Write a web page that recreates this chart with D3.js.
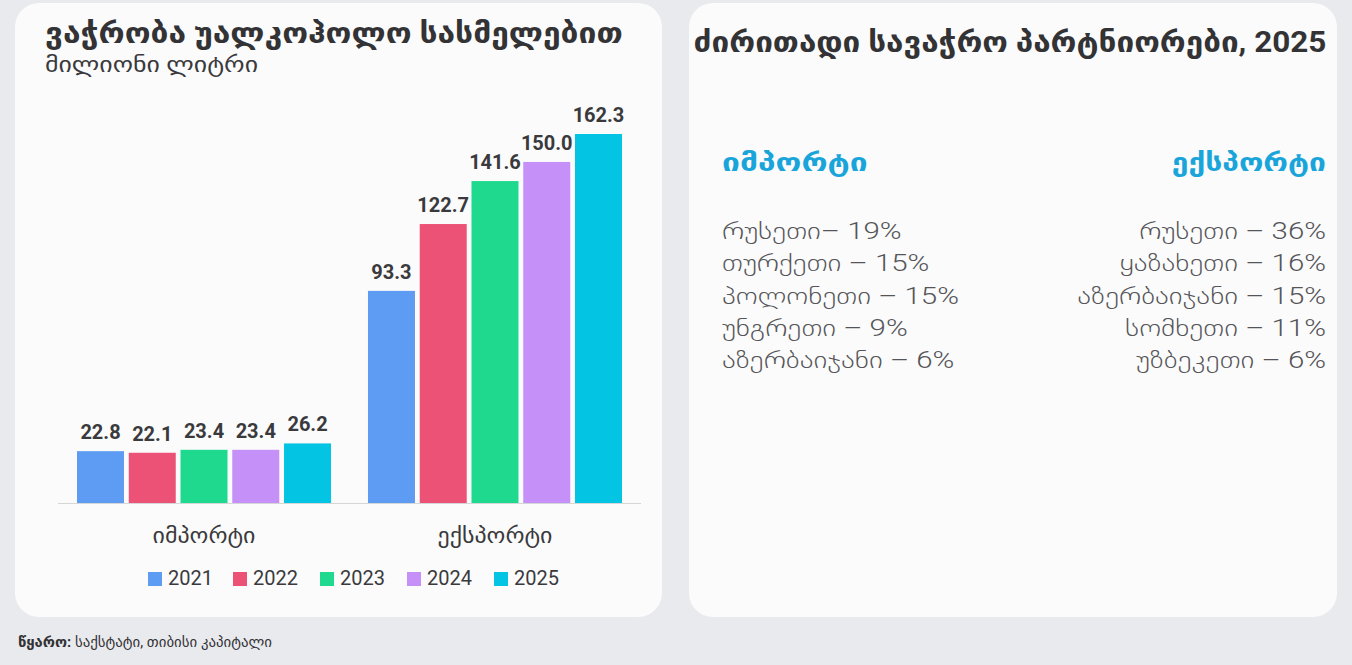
<!DOCTYPE html>
<html>
<head>
<meta charset="utf-8">
<script src="https://cdn.jsdelivr.net/npm/d3@7"></script>
<style>
  html, body { margin: 0; padding: 0; background: #e9eaed; }
  svg { display: block; }
</style>
</head>
<body>
<svg id="chart" width="1352" height="665"></svg>
<script>
// ---- data ----
const categories = ["იმპორტი", "ექსპორტი"];
const years = ["2021", "2022", "2023", "2024", "2025"];
const importValues = [22.8, 22.1, 23.4, 23.4, 26.2];
const exportValues = [93.3, 122.7, 141.6, 150.0, 162.3];
const yearColors = ["#5e9cf3", "#ec5276", "#1fd98e", "#c590f7", "#03c4e2"];

const chartTitle = "ვაჭრობა უალკოჰოლო სასმელებით";
const chartSubtitle = "მილიონი ლიტრი";
const partnersTitle = "ძირითადი სავაჭრო პარტნიორები, 2025";
const importPartners = ["რუსეთი– 19%", "თურქეთი – 15%", "პოლონეთი – 15%", "უნგრეთი – 9%", "აზერბაიჯანი – 6%"];
const exportPartners = ["რუსეთი – 36%", "ყაზახეთი – 16%", "აზერბაიჯანი – 15%", "სომხეთი – 11%", "უზბეკეთი – 6%"];
const sourceLabel = "წყარო:";
const sourceText = " საქსტატი, თიბისი კაპიტალი";

const FONT = "Roboto, 'DejaVu Sans', sans-serif";
const svg = d3.select("#chart");

// widen Georgian text to match the reference typeface's wider glyphs
function widen(sel, factor) {
  sel.each(function () {
    const w = this.getComputedTextLength();
    d3.select(this).attr("textLength", w * factor).attr("lengthAdjust", "spacingAndGlyphs");
  });
  return sel;
}

// ---- cards ----
svg.append("rect").attr("x", 15).attr("y", 3).attr("width", 647).attr("height", 614)
  .attr("rx", 24).attr("fill", "#fbfbfc");
svg.append("rect").attr("x", 689).attr("y", 3).attr("width", 648).attr("height", 614)
  .attr("rx", 24).attr("fill", "#fbfbfc");

// ---- left title ----
widen(svg.append("text").attr("x", 45).attr("y", 43)
  .attr("font-family", FONT).attr("font-weight", 700).attr("font-size", 28)
  .attr("fill", "#333336").text(chartTitle), 1.135);
widen(svg.append("text").attr("x", 45).attr("y", 72)
  .attr("font-family", FONT).attr("font-weight", 400).attr("font-size", 21)
  .attr("fill", "#3a3a3c").text(chartSubtitle), 1.23);

// ---- bar chart ----
const data = categories.map((c, i) => ({
  cat: c,
  values: (i === 0 ? importValues : exportValues).map((v, j) => ({ year: years[j], value: v, color: yearColors[j] }))
}));

const x0 = d3.scaleBand().domain(categories).range([77, 622]).paddingInner(0.127).paddingOuter(0);
const x1 = d3.scaleBand().domain(years).range([0, x0.bandwidth()]).paddingInner(0.092);
const y = d3.scaleLinear().domain([0, d3.max(exportValues)]).range([503, 134]);

const groups = svg.append("g").selectAll("g").data(data).join("g")
  .attr("transform", d => `translate(${x0(d.cat)},0)`);

groups.selectAll("rect").data(d => d.values).join("rect")
  .attr("x", d => x1(d.year))
  .attr("y", d => y(d.value))
  .attr("width", x1.bandwidth())
  .attr("height", d => y(0) - y(d.value))
  .attr("fill", d => d.color);

groups.selectAll("text").data(d => d.values).join("text")
  .attr("x", d => x1(d.year) + x1.bandwidth() / 2)
  .attr("y", d => y(d.value) - 12)
  .attr("text-anchor", "middle")
  .attr("font-family", FONT).attr("font-weight", 700).attr("font-size", 20)
  .attr("fill", "#3a3a3c")
  .text(d => d.value.toFixed(1));

// axis
const xAxis = d3.axisBottom(x0).tickSize(0).tickPadding(25);
const axisG = svg.append("g").attr("transform", `translate(0,${y(0)})`).call(xAxis);
axisG.select(".domain").attr("stroke", "#d5d6d8").attr("d", "M58,0.5H641");
widen(axisG.selectAll("text").attr("font-family", FONT).attr("font-size", 21).attr("fill", "#3a3a3c"), 1.14);

// legend
const legendX = [148, 233, 320, 407, 494];
const legend = svg.append("g").selectAll("g").data(years).join("g")
  .attr("transform", (d, i) => `translate(${legendX[i]},572)`);
legend.append("rect").attr("width", 14).attr("height", 14).attr("fill", (d, i) => yearColors[i]);
legend.append("text").attr("x", 20).attr("y", 13)
  .attr("font-family", FONT).attr("font-size", 20).attr("fill", "#3a3a3c").text(d => d);

// ---- right card ----
widen(svg.append("text").attr("x", 1010).attr("y", 52).attr("text-anchor", "middle")
  .attr("font-family", FONT).attr("font-weight", 700).attr("font-size", 29)
  .attr("fill", "#333336").text(partnersTitle), 1.085);

widen(svg.append("text").attr("x", 722).attr("y", 171)
  .attr("font-family", FONT).attr("font-weight", 700).attr("font-size", 25)
  .attr("fill", "#1aa5da").text(categories[0]), 1.27);
widen(svg.append("text").attr("x", 1326).attr("y", 171).attr("text-anchor", "end")
  .attr("font-family", FONT).attr("font-weight", 700).attr("font-size", 25)
  .attr("fill", "#1aa5da").text(categories[1]), 1.2);

const rowY = d3.scalePoint().domain(d3.range(5)).range([239, 368]);
widen(svg.append("g").selectAll("text").data(importPartners).join("text")
  .attr("x", 722).attr("y", (d, i) => rowY(i))
  .attr("font-family", FONT).attr("font-weight", 300).attr("font-size", 23)
  .attr("fill", "#555558").text(d => d), 1.28);
widen(svg.append("g").selectAll("text").data(exportPartners).join("text")
  .attr("x", 1326).attr("y", (d, i) => rowY(i)).attr("text-anchor", "end")
  .attr("font-family", FONT).attr("font-weight", 300).attr("font-size", 23)
  .attr("fill", "#555558").text(d => d), 1.28);

// ---- footer ----
const foot = svg.append("text").attr("x", 18).attr("y", 647)
  .attr("font-family", FONT).attr("font-size", 14).attr("fill", "#333336");
foot.append("tspan").attr("font-weight", 700).text(sourceLabel);
foot.append("tspan").text(sourceText);
widen(foot, 1.06);
</script>
</body>
</html>
